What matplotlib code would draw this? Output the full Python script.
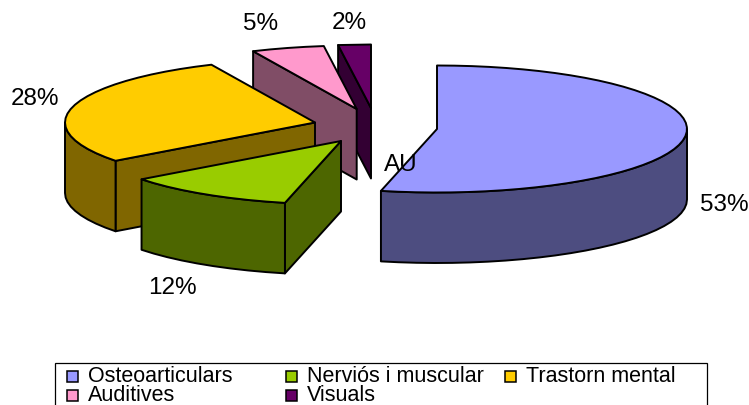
import numpy as np
import matplotlib
matplotlib.use("Agg")
import matplotlib.pyplot as plt
from matplotlib.patches import Polygon, Rectangle

plt.rcParams['font.family'] = ['Liberation Sans', 'DejaVu Sans']

# shares measured from the slice angles, labels as printed in the chart
categories = ["Osteoarticulars", "Nerviós i muscular", "Trastorn mental", "Auditives", "Visuals"]
shares = [53.6, 11.1, 28.5, 4.7, 2.1]
pct_labels = ["53%", "12%", "28%", "5%", "2%"]

top_colors = ["#9999FF", "#99CC00", "#FFCC00", "#FF99CC", "#660066"]
side_colors = ["#4D4D80", "#4D6600", "#806600", "#804D66", "#330033"]

# exploded apex of each slice, pixels
apex = [(437, 130), (341, 142), (315, 123.5), (356.7, 110), (371, 109)]
label_pos = [(724, 205), (172, 288), (35, 99), (261, 24), (349, 23)]
legend_pos = [(67, 377), (286, 377), (505, 377), (67, 396), (286, 396)]

rx, ry, depth = 250, 63.5, 70.5
lw = 1.4

fig = plt.figure(figsize=(7.49, 4.06), dpi=100)
ax = fig.add_axes([0, 0, 1, 1])
ax.set_xlim(0, 749)
ax.set_ylim(406, 0)
ax.axis('off')


def pt(c, a):
    return c[0] + rx * np.cos(a), c[1] - ry * np.sin(a)


def arc(c, a1, a2):
    n = max(2, int(abs(a2 - a1) / np.radians(4)) + 1)
    return [pt(c, a) for a in np.linspace(a1, a2, n)]


def drawSlice(i, a1, a2):
    c = apex[i]
    # flat face on the slice's leading edge
    if np.cos(a1) < -1e-6:
        e = pt(c, a1)
        face = [e, c, (c[0], c[1] + depth), (e[0], e[1] + depth)]
        ax.add_patch(Polygon(face, fc=side_colors[i], ec='black', lw=lw, joinstyle='round'))
    # outer rim, only the front half of the ellipse shows
    r1, r2 = min(a1, 0), max(a2, -np.pi)
    if r1 > r2:
        top = arc(c, r1, r2)
        low = [(x, y + depth) for x, y in top[::-1]]
        ax.add_patch(Polygon(top + low, fc=side_colors[i], ec='black', lw=lw, joinstyle='round'))
    ax.add_patch(Polygon([c] + arc(c, a1, a2), fc=top_colors[i], ec='black', lw=lw, joinstyle='round'))


angles = np.pi / 2 - np.radians(np.cumsum([0] + shares) * 3.6)
# back slices go first so the nearer ones cover them
for i in [4, 3, 2, 1, 0]:
    drawSlice(i, angles[i], angles[i + 1])
    ax.text(*label_pos[i], pct_labels[i], fontsize=17.5, ha='center', va='center', color='black', zorder=10)

ax.text(401, 165, "AU", fontsize=17.5, ha='center', va='center', color='black', zorder=10)

# legend runs off the bottom of the image in the original
ax.add_patch(Rectangle((55, 364), 652, 60, fc='white', ec='black', lw=0.9, zorder=11))
for i, name in enumerate(categories):
    x, y = legend_pos[i]
    ax.add_patch(Rectangle((x, y - 5.5), 11, 11, fc=top_colors[i], ec='black', lw=1.1, zorder=12))
    ax.text(x + 21, y, name, fontsize=15.5, ha='left', va='center', color='black', zorder=12)

fig.savefig("out.png", dpi=100)
